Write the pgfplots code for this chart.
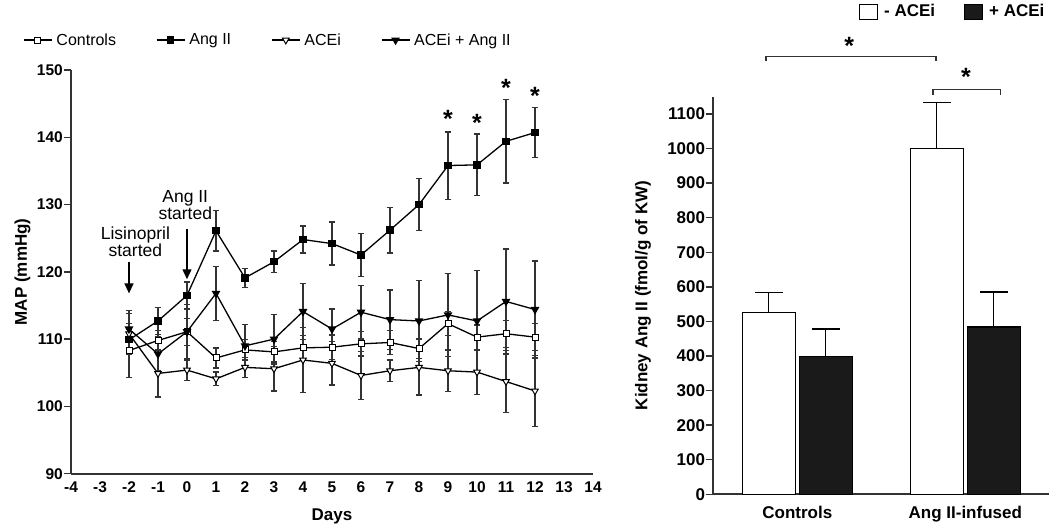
\documentclass[border=0pt]{standalone}
\usepackage{pgfplots}
\usepackage{pgfplotstable}
\pgfplotsset{compat=1.18}
\usepackage{fontspec}
\setmainfont{Liberation Sans}
\usetikzlibrary{arrows.meta}
\definecolor{ax}{HTML}{333333}
\definecolor{barblk}{HTML}{1A1A1A}

\pgfplotstableread{
d m e
-2 108.3 4.0
-1 109.8 1.5
0 111.1 2.0
1 107.2 1.5
2 108.4 1.5
3 108.1 1.5
4 108.7 1.8
5 108.8 1.8
6 109.3 1.8
7 109.5 1.8
8 108.6 1.5
9 112.3 1.8
10 110.3 1.8
11 110.8 2.0
12 110.3 2.0
}\controls

\pgfplotstableread{
d m e
-2 109.9 1.5
-1 112.7 2.0
0 116.5 2.0
1 126.1 3.0
2 119.1 1.4
3 121.5 1.6
4 124.8 2.0
5 124.2 3.2
6 122.5 3.2
7 126.2 3.4
8 130.0 3.9
9 135.8 5.0
10 135.9 4.6
11 139.4 6.2
12 140.7 3.7
}\angii

\pgfplotstableread{
d m e
-2 110.8 3.0
-1 104.9 3.5
0 105.4 1.5
1 104.1 1.0
2 105.8 1.5
3 105.6 3.3
4 106.9 4.8
5 106.4 3.2
6 104.6 3.6
7 105.3 1.6
8 105.8 4.1
9 105.3 3.1
10 105.1 3.3
11 103.7 4.6
12 102.3 5.3
}\acei

\pgfplotstableread{
d m e
-2 111.5 2.8
-1 107.8 2.5
0 111.1 4.0
1 116.8 4.0
2 109.0 3.2
3 110.0 3.7
4 114.1 4.2
5 111.5 3.0
6 114.0 4.0
7 112.9 4.4
8 112.7 6.0
9 113.6 6.2
10 112.7 7.5
11 115.6 7.8
12 114.4 7.2
}\aceiang

\pgfplotsset{
  mybarlegend/.style={legend image code/.code={\draw[##1,line width=1pt] (0pt,-8pt) rectangle (18pt,7pt);}},
  myerr/.style={error bars/.cd, y dir=both, y explicit,
    error bar style={line width=1.5pt, ax},
    error mark options={rotate=90, mark size=3.3pt, line width=1.3pt, ax}},
}

\begin{document}
\begin{tikzpicture}[x=1pt,y=1pt]
\useasboundingbox (0,0) rectangle (1050,530);
% ---------------- left panel ----------------
\begin{axis}[
  at={(71pt,56.3pt)}, anchor=south west,
  scale only axis, width=522pt, height=403.7pt,
  xmin=-4, xmax=14, ymin=90, ymax=150,
  axis x line*=bottom, axis y line*=left,
  axis line style={-, line width=2pt, ax},
  xtick={-4,...,14}, ytick={90,100,...,150},
  xtick style={draw=none},
  ytick style={line width=1.5pt, ax},
  tick align=outside, major tick length=7pt,
  ticklabel style={font=\bfseries\fontsize{15.5}{15.5}\selectfont},
  yticklabel style={inner sep=1pt},
  xticklabel style={inner sep=0.5pt},
  /pgf/number format/assume math mode=true,
  xlabel={Days}, ylabel={MAP (mmHg)},
  every axis x label/.style={at={(axis description cs:0.5,-0.105)}, anchor=center},
  every axis y label/.style={at={(axis description cs:-0.093,0.5)}, rotate=90, anchor=center},
  label style={font=\bfseries\fontsize{17}{17}\selectfont},
  clip=false,
  legend columns=4,
  legend style={draw=none, fill=none, at={(axis description cs:-0.092,1.074)}, anchor=west,
    font=\fontsize{16}{16}\selectfont, inner sep=0pt,
    /tikz/every odd column/.append style={column sep=2pt},
    /tikz/every even column/.append style={column sep=38pt}},
  legend image code/.code={\draw[mark repeat=2,mark phase=2,#1] plot coordinates {(0pt,0pt)(14pt,0pt)(28pt,0pt)};},
]
\addplot[black, line width=1.3pt, mark=square*, mark size=3pt, mark options={fill=white, solid, line width=1pt}, myerr]
  table[x=d, y=m, y error=e] {\controls};
\addlegendentry{Controls}
\addplot[black, line width=1.3pt, mark=square*, mark size=3pt, mark options={fill=black, solid}, myerr]
  table[x=d, y=m, y error=e] {\angii};
\addlegendentry{Ang II}
\addplot[black, line width=1.3pt, mark=triangle*, mark size=3.8pt, mark options={fill=white, solid, rotate=180, line width=1pt}, myerr]
  table[x=d, y=m, y error=e] {\acei};
\addlegendentry{ACEi}
\addplot[black, line width=1.3pt, mark=triangle*, mark size=3.8pt, mark options={fill=black, solid, rotate=180}, myerr]
  table[x=d, y=m, y error=e] {\aceiang};
\addlegendentry{ACEi + Ang II}

% annotations
\draw[-{Triangle[length=10pt,width=9pt]}, line width=1.4pt, black] (axis cs:-2,121.5) -- (axis cs:-2,116.8);
\draw[-{Triangle[length=10pt,width=9pt]}, line width=1.4pt, black] (axis cs:0,126.4) -- (axis cs:0,118.9);
\node[align=center, font=\fontsize{17.5}{17}\selectfont, inner sep=0pt] at (axis cs:-1.78,124.45) {Lisinopril\\started};
\node[align=center, font=\fontsize{17.5}{17}\selectfont, inner sep=0pt] at (axis cs:-0.06,129.9) {Ang II\\started};
\node[anchor=north, inner sep=0pt, font=\bfseries\fontsize{25}{25}\selectfont] at (axis cs:9,144.0) {*};
\node[anchor=north, inner sep=0pt, font=\bfseries\fontsize{25}{25}\selectfont] at (axis cs:10,143.4) {*};
\node[anchor=north, inner sep=0pt, font=\bfseries\fontsize{25}{25}\selectfont] at (axis cs:11,148.6) {*};
\node[anchor=north, inner sep=0pt, font=\bfseries\fontsize{25}{25}\selectfont] at (axis cs:12,147.4) {*};
\end{axis}

% ---------------- right panel ----------------
\begin{axis}[
  at={(713.3pt,35.7pt)}, anchor=south west,
  scale only axis, width=336pt, height=397.6pt,
  xmin=-0.5, xmax=1.5, ymin=0, ymax=1150,
  ybar=4pt, bar width=53pt,
  every axis plot post/.append style={mybarlegend},
  axis x line*=bottom, axis y line*=left,
  axis line style={-, line width=2pt, ax},
  xtick={0,1}, xticklabels={Controls, Ang II-infused},
  ytick={0,100,...,1100},
  xtick style={draw=none},
  ytick style={line width=1.5pt, ax},
  tick align=outside, major tick length=7pt,
  ticklabel style={font=\bfseries\fontsize{17}{17}\selectfont},
  yticklabel style={inner sep=1pt},
  xticklabel style={yshift=-1pt},
  /pgf/number format/assume math mode=true,
  /pgf/number format/1000 sep={},
  ylabel={Kidney Ang II (fmol/g of KW)},
  every axis y label/.style={at={(axis description cs:-0.209,0.5)}, rotate=90, anchor=center},
  label style={font=\bfseries\fontsize{17}{17}\selectfont},
  clip=false,
  legend columns=2,
  legend style={draw=none, fill=none, at={(axis description cs:0.4336,1.2155)}, anchor=west,
    font=\bfseries\fontsize{17}{17}\selectfont, inner sep=0pt,
    /tikz/every odd column/.append style={column sep=4pt},
    /tikz/every even column/.append style={column sep=27pt}},
]
\addplot[fill=white, draw=black, line width=1.2pt,
  error bars/.cd, y dir=plus, y explicit,
  error bar style={line width=1.3pt, black},
  error mark options={rotate=90, mark size=14pt, line width=1.3pt, black}]
  coordinates {(0,525) +- (0,59) (1,1000) +- (0,134)};
\addlegendentry{- ACEi}
\addplot[fill=barblk, draw=black, line width=1.2pt,
  error bars/.cd, y dir=plus, y explicit,
  error bar style={line width=1.3pt, black},
  error mark options={rotate=90, mark size=14pt, line width=1.3pt, black}]
  coordinates {(0,398) +- (0,80) (1,484) +- (0,101)};
\addlegendentry{+ ACEi}

\draw[line width=1.3pt, ax] (axis cs:-0.186,1253.5) -- (axis cs:-0.186,1266) -- (axis cs:0.826,1266) -- (axis cs:0.826,1253.5);
\draw[line width=1.3pt, ax] (axis cs:0.808,1155) -- (axis cs:0.808,1171.5) -- (axis cs:1.208,1171.5) -- (axis cs:1.208,1155);
\node[anchor=north, inner sep=0pt, font=\bfseries\fontsize{25}{25}\selectfont] at (axis cs:0.3095,1323.7) {*};
\node[anchor=north, inner sep=0pt, font=\bfseries\fontsize{25}{25}\selectfont] at (axis cs:1.004,1232.3) {*};
\end{axis}
\end{tikzpicture}
\end{document}
